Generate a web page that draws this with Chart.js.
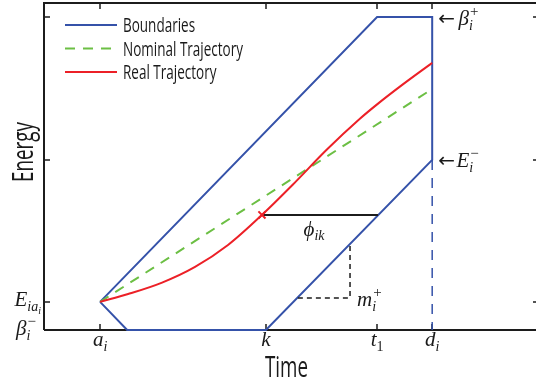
<!DOCTYPE html>
<html>
<head>
<meta charset="utf-8">
<script src="https://cdn.jsdelivr.net/npm/chart.js@4.4.1/dist/chart.umd.min.js"></script>
<style>
html,body{margin:0;padding:0;background:#fff;}
#wrap{width:536px;height:383px;position:relative;}
</style>
</head>
<body>
<div id="wrap"><canvas id="c" width="536" height="383"></canvas></div>
<script>
// ---- data (axis units 0..100 on both axes) ----
const xTickValues = [11.4, 45.1, 67.7, 78.9];
const xTickNames  = ['a', 'k', 't', 'd'];
const xTickSubs   = ['i', '', '1', 'i'];
const yTickValues = [0, 8.6, 52, 95.7];

const boundaryX = [11.4, 67.7, 78.9, 78.9, 45.1, 16.9, 11.4];
const boundaryY = [8.6, 95.7, 95.7, 52, 0, 0, 8.6];
const deadlineX = [78.9, 78.9];
const deadlineY = [52, 0];
const nominalX = [11.4, 78.9];
const nominalY = [8.6, 73.7];
const realX = [11.4, 17.1, 24.0, 30.7, 37.4, 44.3, 50.6, 57.5, 64.2, 67.7, 72.4, 78.9];
const realY = [8.6, 11.0, 14.5, 19.3, 26.0, 35.2, 44.5, 55.2, 64.6, 69.0, 74.5, 81.7];
const phiX = [44.3, 67.9];
const phiY = [35.2, 35.2];
const slopeX = [51.6, 62.2, 62.2];
const slopeY = [9.8, 9.8, 26.3];
const crossX = [44.3];
const crossY = [35.2];

const seriesNames = ['Boundaries', 'Nominal Trajectory', 'Real Trajectory'];

const BLUE = '#3552a9', GREEN = '#6cbf44', RED = '#ec2027', BLACK = '#1c1c1c';
const pts = (xs, ys) => xs.map((x, i) => ({x: x, y: ys[i]}));

const SERIF = "'Liberation Serif','DejaVu Serif',serif";
const SANS = "'Open Sans','DejaVu Sans',sans-serif";

function seg(t, size, dy, style, fam) { return {t, size, dy, style: style || 'italic', fam: fam || SERIF}; }
function stack(sup, sub, size) { return {stack: true, sup, sub, size: size || 14}; }

function drawRun(ctx, x, y, segs, align) {
  let w = 0;
  segs.forEach(s => {
    if (s.stack) {
      ctx.font = `italic ${s.size}px ${SERIF}`;
      s.w = Math.max(ctx.measureText(s.sup).width, ctx.measureText(s.sub).width) + 1;
    } else {
      ctx.font = `${s.style} ${s.size}px ${s.fam}`;
      s.w = ctx.measureText(s.t).width;
    }
    w += s.w;
  });
  let cx = align === 'center' ? x - w / 2 : align === 'right' ? x - w : x;
  ctx.textAlign = 'left';
  ctx.textBaseline = 'alphabetic';
  segs.forEach(s => {
    if (s.stack) {
      ctx.font = `normal ${s.size + 1}px ${SERIF}`;
      ctx.fillText(s.sup, cx + 1, y - 9);
      ctx.font = `italic ${s.size}px ${SERIF}`;
      ctx.fillText(s.sub, cx, y + 5);
    } else {
      ctx.font = `${s.style} ${s.size}px ${s.fam}`;
      ctx.fillText(s.t, cx, y + s.dy);
    }
    cx += s.w;
  });
}

function drawCond(ctx, text, x, y, size, targetW, rot) {
  ctx.save();
  ctx.font = `${size}px ${SANS}`;
  const sx = targetW / ctx.measureText(text).width;
  ctx.translate(x, y);
  if (rot) ctx.rotate(rot);
  ctx.scale(sx, 1);
  ctx.textAlign = 'left';
  ctx.textBaseline = 'alphabetic';
  ctx.fillText(text, 0, 0);
  ctx.restore();
}

const annotate = {
  id: 'annotate',
  beforeDatasetsDraw(chart) {
    const ctx = chart.ctx, a = chart.chartArea;
    const xs = chart.scales.x, ys = chart.scales.y;
    ctx.save();
    ctx.strokeStyle = BLACK;
    ctx.lineWidth = 2;
    ctx.beginPath();
    ctx.moveTo(a.left, a.bottom); ctx.lineTo(a.left, a.top);
    ctx.lineTo(a.right, a.top);
    ctx.moveTo(a.left, a.bottom); ctx.lineTo(a.right, a.bottom);
    ctx.stroke();
    ctx.lineWidth = 1.5;
    ctx.beginPath();
    xTickValues.forEach(v => {
      const px = Math.round(xs.getPixelForValue(v));
      ctx.moveTo(px, a.bottom); ctx.lineTo(px, a.bottom - 6);
      ctx.moveTo(px, a.top); ctx.lineTo(px, a.top + 6);
    });
    yTickValues.forEach(v => {
      const py = Math.round(ys.getPixelForValue(v));
      ctx.moveTo(a.left, py); ctx.lineTo(a.left + 6, py);
      ctx.moveTo(a.right, py); ctx.lineTo(a.right - 3, py);
    });
    ctx.stroke();
    ctx.restore();
  },
  afterDraw(chart) {
    const ctx = chart.ctx, a = chart.chartArea;
    const xs = chart.scales.x, ys = chart.scales.y;
    ctx.save();
    ctx.fillStyle = '#1a1a1a';
    // bottom tick labels
    xTickValues.forEach((v, i) => {
      const px = xs.getPixelForValue(v);
      const segs = [seg(xTickNames[i], 21, 0)];
      if (xTickSubs[i]) segs.push(seg(xTickSubs[i], 14, 5, xTickSubs[i] === '1' ? 'normal' : 'italic'));
      drawRun(ctx, px, a.bottom + 16, segs, 'center');
    });
    // left tick labels
    const pE = ys.getPixelForValue(yTickValues[1]);
    drawRun(ctx, 41, pE + 4, [seg('E', 21, 0), seg('ia', 14, 5), seg('i', 10, 8)], 'right');
    const pB = ys.getPixelForValue(yTickValues[0]);
    drawRun(ctx, 37, pB + 5, [seg('β', 21, 0), stack('−', 'i')], 'right');
    // right side labels
    const dx = xs.getPixelForValue(xTickValues[3]);
    const pTop = ys.getPixelForValue(yTickValues[3]);
    drawRun(ctx, dx + 6, pTop + 8, [seg('←', 20, 0, 'normal', "'DejaVu Sans',sans-serif"), seg(' ', 14, 0), seg('β', 21, 0), stack('+', 'i')], 'left');
    const pMid = ys.getPixelForValue(yTickValues[2]);
    drawRun(ctx, dx + 6, pMid + 7, [seg('←', 20, 0, 'normal', "'DejaVu Sans',sans-serif"), seg(' ', 6, 0), seg('E', 21, 0), stack('−', 'i')], 'left');
    // phi_ik
    const phiMid = xs.getPixelForValue((phiX[0] + phiX[1]) / 2);
    drawRun(ctx, phiMid - 6, ys.getPixelForValue(phiY[0]) + 21, [seg('ϕ', 21, 0), seg('ik', 14, 4)], 'center');
    // m_i^+
    drawRun(ctx, xs.getPixelForValue(slopeX[2]) + 7, ys.getPixelForValue(slopeY[0]) + 8, [seg('m', 21, 0), stack('+', 'i')], 'left');
    // axis titles
    drawCond(ctx, 'Time', 265, 377, 29, 43);
    drawCond(ctx, 'Energy', 33, 182, 29, 60, -Math.PI / 2);
    // legend
    const items = chart.data.datasets.filter(d => d.legendName).sort((p, q) => p.legendIndex - q.legendIndex);
    items.forEach((d, i) => {
      const ly = 25 + i * 23.5;
      ctx.save();
      ctx.strokeStyle = d.borderColor;
      ctx.lineWidth = d.borderWidth;
      ctx.setLineDash(d.borderDash || []);
      ctx.beginPath(); ctx.moveTo(65, ly); ctx.lineTo(117, ly); ctx.stroke();
      ctx.restore();
      ctx.fillStyle = '#1a1a1a';
      ctx.font = `20px ${SANS}`;
      const sx = 120 / ctx.measureText(seriesNames[1]).width;
      ctx.save();
      ctx.translate(123, ly + 7);
      ctx.scale(sx, 1);
      ctx.textAlign = 'left';
      ctx.textBaseline = 'alphabetic';
      ctx.fillText(d.legendName, 0, 0);
      ctx.restore();
    });
    ctx.restore();
  }
};

const line = (data, color, width, dash, extra) => Object.assign({
  data: data, showLine: true, borderColor: color, backgroundColor: color,
  borderWidth: width, borderDash: dash || [], pointRadius: 0, fill: false,
  clip: false, tension: 0
}, extra || {});

new Chart(document.getElementById('c'), {
  type: 'scatter',
  data: {
    datasets: [
      line(pts(boundaryX, boundaryY), BLUE, 2, [], {legendName: seriesNames[0], legendIndex: 0, order: 6}),
      line(pts(deadlineX, deadlineY), BLUE, 1.5, [10, 8], {order: 5}),
      line(pts(slopeX, slopeY), BLACK, 1.5, [5, 4], {order: 4}),
      line(pts(nominalX, nominalY), GREEN, 2, [10, 8], {legendName: seriesNames[1], legendIndex: 1, order: 3}),
      line(pts(phiX, phiY), BLACK, 2, [], {order: 2}),
      line(pts(realX, realY), RED, 2, [], {cubicInterpolationMode: 'monotone', legendName: seriesNames[2], legendIndex: 2, order: 1}),
      line(pts(crossX, crossY), RED, 2, [], {showLine: false, pointRadius: 5, pointStyle: 'crossRot', pointBorderColor: RED, pointBorderWidth: 2, order: 0})
    ]
  },
  options: {
    responsive: false,
    animation: false,
    devicePixelRatio: 1,
    layout: {autoPadding: false, padding: {left: 44, top: 3, right: 0, bottom: 53}},
    plugins: {legend: {display: false}, tooltip: {enabled: false}},
    scales: {
      x: {type: 'linear', min: 0, max: 100, display: false},
      y: {type: 'linear', min: 0, max: 100, display: false}
    }
  },
  plugins: [annotate]
});
</script>
</body>
</html>
